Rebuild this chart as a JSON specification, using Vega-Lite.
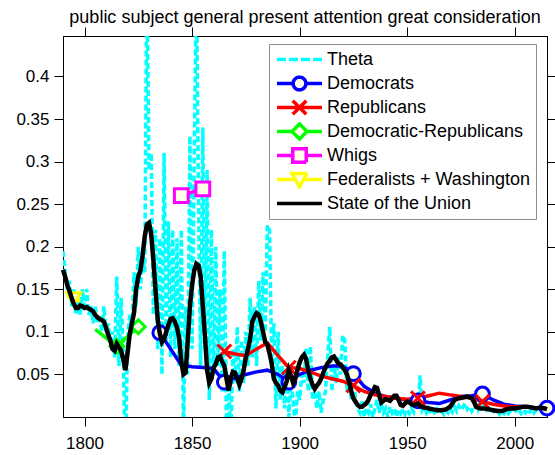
{
  "$schema": "https://vega.github.io/schema/vega-lite/v6.json",
  "width": 484,
  "height": 381,
  "autosize": {"type": "none"},
  "padding": {"left": 63, "top": 36, "right": 8, "bottom": 38},
  "background": "white",
  "config": {
    "font": "Liberation Sans",
    "view": {"stroke": "black", "strokeWidth": 1},
    "axis": {"grid": false, "domainColor": "black", "tickColor": "black", "labelColor": "black", "labelFontSize": 17, "labelFont": "Liberation Sans", "tickSize": 9, "domainWidth": 1, "tickWidth": 1}
  },
  "title": {"text": "public subject general present attention great consideration", "fontSize": 18, "fontWeight": "normal", "font": "Liberation Sans", "color": "black", "offset": 0, "anchor": "middle"},
  "datasets": {
    "theta": [
      {"year":1790,"v":0.195},{"year":1791,"v":0.17},{"year":1792,"v":0.15},{"year":1793,"v":0.16},{"year":1794,"v":0.13},{"year":1795,"v":0.15},{"year":1796,"v":0.12},{"year":1797,"v":0.14},{"year":1798,"v":0.12},{"year":1799,"v":0.15},
      {"year":1800,"v":0.13},{"year":1801,"v":0.15},{"year":1802,"v":0.12},{"year":1803,"v":0.13},{"year":1804,"v":0.11},{"year":1805,"v":0.13},{"year":1806,"v":0.11},{"year":1807,"v":0.12},{"year":1808,"v":0.10},{"year":1809,"v":0.13},
      {"year":1810,"v":0.10},{"year":1811,"v":0.11},{"year":1812,"v":0.09},{"year":1813,"v":0.10},{"year":1814,"v":0.07},{"year":1815,"v":0.165},{"year":1816,"v":0.06},{"year":1817,"v":0.14},{"year":1818,"v":0.08},{"year":1819,"v":-0.06},
      {"year":1820,"v":0.09},{"year":1821,"v":0.12},{"year":1822,"v":0.10},{"year":1823,"v":0.17},{"year":1824,"v":0.13},{"year":1825,"v":0.20},{"year":1826,"v":0.15},{"year":1827,"v":0.19},{"year":1828,"v":0.17},{"year":1829,"v":0.52},
      {"year":1830,"v":0.29},{"year":1831,"v":0.31},{"year":1832,"v":0.12},{"year":1833,"v":0.22},{"year":1834,"v":0.08},{"year":1835,"v":0.21},{"year":1836,"v":0.05},{"year":1837,"v":0.31},{"year":1838,"v":0.09},{"year":1839,"v":0.23},
      {"year":1840,"v":0.07},{"year":1841,"v":0.22},{"year":1842,"v":0.08},{"year":1843,"v":0.21},{"year":1844,"v":0.06},{"year":1845,"v":0.22},{"year":1846,"v":-0.02},{"year":1847,"v":0.13},{"year":1848,"v":0.05},{"year":1849,"v":0.33},
      {"year":1850,"v":0.08},{"year":1851,"v":0.30},{"year":1852,"v":0.52},{"year":1853,"v":0.25},{"year":1854,"v":0.06},{"year":1855,"v":0.34},{"year":1856,"v":0.08},{"year":1857,"v":0.29},{"year":1858,"v":0.02},{"year":1859,"v":0.22},
      {"year":1860,"v":0.05},{"year":1861,"v":0.20},{"year":1862,"v":0.06},{"year":1863,"v":0.15},{"year":1864,"v":0.03},{"year":1865,"v":0.195},{"year":1866,"v":-0.02},{"year":1867,"v":0.05},{"year":1868,"v":-0.03},{"year":1869,"v":0.08},
      {"year":1870,"v":0.04},{"year":1871,"v":0.106},{"year":1872,"v":0.03},{"year":1873,"v":0.09},{"year":1874,"v":0.04},{"year":1875,"v":0.10},{"year":1876,"v":0.06},{"year":1877,"v":0.14},{"year":1878,"v":0.07},{"year":1879,"v":0.13},
      {"year":1880,"v":0.06},{"year":1881,"v":0.16},{"year":1882,"v":0.09},{"year":1883,"v":0.17},{"year":1884,"v":0.10},{"year":1885,"v":0.225},{"year":1886,"v":0.22},{"year":1887,"v":0.07},{"year":1888,"v":0.11},{"year":1889,"v":0.01},
      {"year":1890,"v":0.10},{"year":1891,"v":0.02},{"year":1892,"v":0.06},{"year":1893,"v":0.01},{"year":1894,"v":0.063},{"year":1895,"v":0.0},{"year":1896,"v":0.04},{"year":1897,"v":0.02},{"year":1898,"v":-0.01},{"year":1899,"v":0.03},
      {"year":1900,"v":0.02},{"year":1901,"v":0.05},{"year":1902,"v":0.04},{"year":1903,"v":0.08},{"year":1904,"v":0.03},{"year":1905,"v":0.083},{"year":1906,"v":0.02},{"year":1907,"v":0.03},{"year":1908,"v":0.01},{"year":1909,"v":0.03},
      {"year":1910,"v":0.005},{"year":1911,"v":0.02},{"year":1912,"v":0.03},{"year":1913,"v":0.07},{"year":1914,"v":0.106},{"year":1915,"v":0.03},{"year":1916,"v":0.06},{"year":1917,"v":0.04},{"year":1918,"v":0.07},{"year":1919,"v":0.05},
      {"year":1920,"v":0.096},{"year":1921,"v":0.09},{"year":1922,"v":0.03},{"year":1923,"v":0.05},{"year":1924,"v":0.02},{"year":1925,"v":0.047},{"year":1926,"v":0.02},{"year":1927,"v":0.01},{"year":1928,"v":0.005},{"year":1929,"v":0.02},
      {"year":1930,"v":0.0},{"year":1931,"v":0.01},{"year":1932,"v":0.005},{"year":1933,"v":0.015},{"year":1934,"v":0.0},{"year":1935,"v":0.01},{"year":1936,"v":0.02},{"year":1937,"v":0.005},{"year":1938,"v":0.015},{"year":1939,"v":0.005},
      {"year":1940,"v":0.01},{"year":1941,"v":0.0},{"year":1942,"v":0.012},{"year":1943,"v":0.005},{"year":1944,"v":0.01},{"year":1945,"v":0.0},{"year":1946,"v":0.008},{"year":1947,"v":0.004},{"year":1948,"v":0.01},{"year":1949,"v":0.003},
      {"year":1950,"v":0.008},{"year":1951,"v":0.004},{"year":1952,"v":0.01},{"year":1953,"v":0.006},{"year":1954,"v":0.02},{"year":1955,"v":0.01},{"year":1956,"v":0.049},{"year":1957,"v":0.008},{"year":1958,"v":0.012},{"year":1959,"v":0.005},
      {"year":1960,"v":0.01},{"year":1961,"v":0.004},{"year":1962,"v":0.008},{"year":1963,"v":0.003},{"year":1964,"v":0.009},{"year":1965,"v":0.004},{"year":1966,"v":0.007},{"year":1967,"v":0.003},{"year":1968,"v":0.008},{"year":1969,"v":0.005},
      {"year":1970,"v":0.01},{"year":1971,"v":0.006},{"year":1972,"v":0.012},{"year":1973,"v":0.007},{"year":1974,"v":0.013},{"year":1975,"v":0.008},{"year":1976,"v":0.012},{"year":1977,"v":0.016},{"year":1978,"v":0.009},{"year":1979,"v":0.012},
      {"year":1980,"v":0.007},{"year":1981,"v":0.012},{"year":1982,"v":0.02},{"year":1983,"v":0.01},{"year":1984,"v":0.018},{"year":1985,"v":0.012},{"year":1986,"v":0.015},{"year":1987,"v":0.008},{"year":1988,"v":0.01},{"year":1989,"v":0.005},
      {"year":1990,"v":0.008},{"year":1991,"v":0.004},{"year":1992,"v":0.007},{"year":1993,"v":0.003},{"year":1994,"v":0.006},{"year":1995,"v":0.004},{"year":1996,"v":0.008},{"year":1997,"v":0.004},{"year":1998,"v":0.007},{"year":1999,"v":0.005},
      {"year":2000,"v":0.009},{"year":2001,"v":0.005},{"year":2002,"v":0.008},{"year":2003,"v":0.004},{"year":2004,"v":0.008},{"year":2005,"v":0.005},{"year":2006,"v":0.009},{"year":2007,"v":0.006},{"year":2008,"v":0.01},{"year":2009,"v":0.005},
      {"year":2010,"v":0.008},{"year":2011,"v":0.006},{"year":2012,"v":0.009},{"year":2013,"v":0.005},{"year":2014,"v":0.008},{"year":2015,"v":0.007}
    ],
    "party": [
      {"s":"Federalists + Washington","year":1792,"v":0.142},{"s":"Federalists + Washington","year":1798,"v":0.136},
      {"s":"Democratic-Republicans","year":1805,"v":0.103},{"s":"Democratic-Republicans","year":1815,"v":0.083},{"s":"Democratic-Republicans","year":1825,"v":0.106},
      {"s":"Whigs","year":1845,"v":0.26},{"s":"Whigs","year":1855,"v":0.268},
      {"s":"Democrats","year":1835,"v":0.099},{"s":"Democrats","year":1840,"v":0.08},{"s":"Democrats","year":1845,"v":0.061},{"s":"Democrats","year":1850,"v":0.059},{"s":"Democrats","year":1855,"v":0.058},{"s":"Democrats","year":1860,"v":0.057},{"s":"Democrats","year":1865,"v":0.041},{"s":"Democrats","year":1870,"v":0.046},{"s":"Democrats","year":1875,"v":0.05},{"s":"Democrats","year":1880,"v":0.053},{"s":"Democrats","year":1885,"v":0.055},{"s":"Democrats","year":1890,"v":0.05},{"s":"Democrats","year":1895,"v":0.041},{"s":"Democrats","year":1900,"v":0.05},{"s":"Democrats","year":1905,"v":0.055},{"s":"Democrats","year":1910,"v":0.058},{"s":"Democrats","year":1915,"v":0.06},{"s":"Democrats","year":1920,"v":0.06},{"s":"Democrats","year":1925,"v":0.051},{"s":"Democrats","year":1930,"v":0.036},{"s":"Democrats","year":1935,"v":0.028},{"s":"Democrats","year":1940,"v":0.024},{"s":"Democrats","year":1945,"v":0.022},{"s":"Democrats","year":1950,"v":0.02},{"s":"Democrats","year":1955,"v":0.019},{"s":"Democrats","year":1960,"v":0.017},{"s":"Democrats","year":1965,"v":0.016},{"s":"Democrats","year":1970,"v":0.02},{"s":"Democrats","year":1975,"v":0.024},{"s":"Democrats","year":1980,"v":0.025},{"s":"Democrats","year":1985,"v":0.027},{"s":"Democrats","year":1990,"v":0.02},{"s":"Democrats","year":1995,"v":0.015},{"s":"Democrats","year":2000,"v":0.013},{"s":"Democrats","year":2005,"v":0.012},{"s":"Democrats","year":2010,"v":0.011},{"s":"Democrats","year":2015,"v":0.0105},
      {"s":"Republicans","year":1865,"v":0.077},{"s":"Republicans","year":1870,"v":0.074},{"s":"Republicans","year":1875,"v":0.072},{"s":"Republicans","year":1880,"v":0.08},{"s":"Republicans","year":1885,"v":0.087},{"s":"Republicans","year":1890,"v":0.072},{"s":"Republicans","year":1895,"v":0.058},{"s":"Republicans","year":1900,"v":0.057},{"s":"Republicans","year":1905,"v":0.053},{"s":"Republicans","year":1910,"v":0.048},{"s":"Republicans","year":1915,"v":0.045},{"s":"Republicans","year":1920,"v":0.042},{"s":"Republicans","year":1925,"v":0.037},{"s":"Republicans","year":1930,"v":0.03},{"s":"Republicans","year":1935,"v":0.026},{"s":"Republicans","year":1940,"v":0.024},{"s":"Republicans","year":1945,"v":0.022},{"s":"Republicans","year":1950,"v":0.021},{"s":"Republicans","year":1955,"v":0.022},{"s":"Republicans","year":1960,"v":0.025},{"s":"Republicans","year":1965,"v":0.028},{"s":"Republicans","year":1970,"v":0.026},{"s":"Republicans","year":1975,"v":0.024},{"s":"Republicans","year":1980,"v":0.022},{"s":"Republicans","year":1985,"v":0.018},{"s":"Republicans","year":1990,"v":0.015},{"s":"Republicans","year":1995,"v":0.013},{"s":"Republicans","year":2000,"v":0.012},{"s":"Republicans","year":2005,"v":0.012}
    ],
    "markers": [
      {"s":"Federalists + Washington","year":1795,"v":0.139},
      {"s":"Democratic-Republicans","year":1815,"v":0.083},{"s":"Democratic-Republicans","year":1825,"v":0.106},
      {"s":"Whigs","year":1845,"v":0.26},{"s":"Whigs","year":1855,"v":0.268},
      {"s":"Democrats","year":1835,"v":0.099},{"s":"Democrats","year":1865,"v":0.041},{"s":"Democrats","year":1895,"v":0.041},{"s":"Democrats","year":1925,"v":0.051},{"s":"Democrats","year":1955,"v":0.019},{"s":"Democrats","year":1985,"v":0.027},{"s":"Democrats","year":2015,"v":0.0105},
      {"s":"Republicans","year":1865,"v":0.077},{"s":"Republicans","year":1895,"v":0.058},{"s":"Republicans","year":1925,"v":0.037},{"s":"Republicans","year":1955,"v":0.022},{"s":"Republicans","year":1985,"v":0.018}
    ],
    "sotu": [
      {"year":1790,"v":0.173},{"year":1791,"v":0.165},{"year":1792,"v":0.155},{"year":1793,"v":0.148},{"year":1794,"v":0.14},{"year":1795,"v":0.133},{"year":1796,"v":0.128},{"year":1797,"v":0.128},{"year":1798,"v":0.131},{"year":1799,"v":0.13},
      {"year":1800,"v":0.128},{"year":1801,"v":0.129},{"year":1802,"v":0.127},{"year":1803,"v":0.126},{"year":1804,"v":0.124},{"year":1805,"v":0.12},{"year":1806,"v":0.117},{"year":1807,"v":0.115},{"year":1808,"v":0.114},{"year":1809,"v":0.112},
      {"year":1810,"v":0.105},{"year":1811,"v":0.097},{"year":1812,"v":0.09},{"year":1813,"v":0.08},{"year":1814,"v":0.078},{"year":1815,"v":0.086},{"year":1816,"v":0.082},{"year":1817,"v":0.078},{"year":1818,"v":0.068},{"year":1819,"v":0.055},
      {"year":1820,"v":0.075},{"year":1821,"v":0.097},{"year":1822,"v":0.11},{"year":1823,"v":0.122},{"year":1824,"v":0.15},{"year":1825,"v":0.165},{"year":1826,"v":0.172},{"year":1827,"v":0.19},{"year":1828,"v":0.212},{"year":1829,"v":0.226},
      {"year":1830,"v":0.228},{"year":1831,"v":0.215},{"year":1832,"v":0.185},{"year":1833,"v":0.15},{"year":1834,"v":0.115},{"year":1835,"v":0.098},{"year":1836,"v":0.088},{"year":1837,"v":0.092},{"year":1838,"v":0.1},{"year":1839,"v":0.108},
      {"year":1840,"v":0.115},{"year":1841,"v":0.116},{"year":1842,"v":0.112},{"year":1843,"v":0.105},{"year":1844,"v":0.093},{"year":1845,"v":0.065},{"year":1846,"v":0.05},{"year":1847,"v":0.052},{"year":1848,"v":0.09},{"year":1849,"v":0.13},
      {"year":1850,"v":0.155},{"year":1851,"v":0.172},{"year":1852,"v":0.18},{"year":1853,"v":0.178},{"year":1854,"v":0.165},{"year":1855,"v":0.13},{"year":1856,"v":0.095},{"year":1857,"v":0.055},{"year":1858,"v":0.04},{"year":1859,"v":0.045},
      {"year":1860,"v":0.058},{"year":1861,"v":0.062},{"year":1862,"v":0.07},{"year":1863,"v":0.071},{"year":1864,"v":0.065},{"year":1865,"v":0.06},{"year":1866,"v":0.045},{"year":1867,"v":0.031},{"year":1868,"v":0.046},{"year":1869,"v":0.053},
      {"year":1870,"v":0.052},{"year":1871,"v":0.045},{"year":1872,"v":0.038},{"year":1873,"v":0.045},{"year":1874,"v":0.055},{"year":1875,"v":0.07},{"year":1876,"v":0.08},{"year":1877,"v":0.092},{"year":1878,"v":0.112},{"year":1879,"v":0.118},
      {"year":1880,"v":0.122},{"year":1881,"v":0.12},{"year":1882,"v":0.112},{"year":1883,"v":0.1},{"year":1884,"v":0.088},{"year":1885,"v":0.085},{"year":1886,"v":0.075},{"year":1887,"v":0.063},{"year":1888,"v":0.045},{"year":1889,"v":0.04},
      {"year":1890,"v":0.037},{"year":1891,"v":0.031},{"year":1892,"v":0.029},{"year":1893,"v":0.035},{"year":1894,"v":0.042},{"year":1895,"v":0.055},{"year":1896,"v":0.048},{"year":1897,"v":0.04},{"year":1898,"v":0.045},{"year":1899,"v":0.055},
      {"year":1900,"v":0.064},{"year":1901,"v":0.07},{"year":1902,"v":0.073},{"year":1903,"v":0.068},{"year":1904,"v":0.055},{"year":1905,"v":0.045},{"year":1906,"v":0.038},{"year":1907,"v":0.033},{"year":1908,"v":0.037},{"year":1909,"v":0.04},
      {"year":1910,"v":0.045},{"year":1911,"v":0.052},{"year":1912,"v":0.058},{"year":1913,"v":0.063},{"year":1914,"v":0.066},{"year":1915,"v":0.07},{"year":1916,"v":0.071},{"year":1917,"v":0.067},{"year":1918,"v":0.063},{"year":1919,"v":0.062},
      {"year":1920,"v":0.058},{"year":1921,"v":0.055},{"year":1922,"v":0.05},{"year":1923,"v":0.042},{"year":1924,"v":0.03},{"year":1925,"v":0.022},{"year":1926,"v":0.018},{"year":1927,"v":0.014},{"year":1928,"v":0.012},{"year":1929,"v":0.012},
      {"year":1930,"v":0.014},{"year":1931,"v":0.016},{"year":1932,"v":0.02},{"year":1933,"v":0.026},{"year":1934,"v":0.03},{"year":1935,"v":0.035},{"year":1936,"v":0.034},{"year":1937,"v":0.025},{"year":1938,"v":0.017},{"year":1939,"v":0.019},
      {"year":1940,"v":0.021},{"year":1941,"v":0.02},{"year":1942,"v":0.019},{"year":1943,"v":0.022},{"year":1944,"v":0.025},{"year":1945,"v":0.025},{"year":1946,"v":0.02},{"year":1947,"v":0.014},{"year":1948,"v":0.013},{"year":1949,"v":0.016},
      {"year":1950,"v":0.018},{"year":1951,"v":0.017},{"year":1952,"v":0.015},{"year":1953,"v":0.014},{"year":1954,"v":0.015},{"year":1955,"v":0.016},{"year":1956,"v":0.013},{"year":1957,"v":0.012},{"year":1958,"v":0.011},{"year":1959,"v":0.011},
      {"year":1960,"v":0.01},{"year":1962,"v":0.009},{"year":1964,"v":0.008},{"year":1966,"v":0.008},{"year":1968,"v":0.009},{"year":1970,"v":0.012},{"year":1972,"v":0.02},{"year":1974,"v":0.022},{"year":1976,"v":0.023},{"year":1978,"v":0.024},
      {"year":1980,"v":0.022},{"year":1981,"v":0.018},{"year":1982,"v":0.012},{"year":1984,"v":0.01},{"year":1986,"v":0.01},{"year":1988,"v":0.009},{"year":1990,"v":0.008},{"year":1992,"v":0.007},{"year":1994,"v":0.007},{"year":1996,"v":0.009},
      {"year":1998,"v":0.01},{"year":2000,"v":0.01},{"year":2002,"v":0.011},{"year":2004,"v":0.012},{"year":2006,"v":0.012},{"year":2008,"v":0.011},{"year":2010,"v":0.01},{"year":2012,"v":0.011},{"year":2014,"v":0.01},{"year":2015,"v":0.009}
    ]
  },
  "layer": [
    {
      "data": {"name": "theta"},
      "mark": {"type": "line", "clip": true, "strokeWidth": 3.5, "strokeDash": [6, 3]},
      "encoding": {
        "x": {"field": "year", "type": "quantitative", "scale": {"domain": [1790, 2015], "nice": false, "zero": false},
              "axis": {"orient": "bottom", "title": null, "values": [1800, 1850, 1900, 1950, 2000], "format": "d", "labelBaseline": "alphabetic", "labelPadding": 22}},
        "y": {"field": "v", "type": "quantitative", "scale": {"domain": [0, 0.4475], "nice": false, "zero": false},
              "axis": {"orient": "left", "title": null, "values": [0.05, 0.1, 0.15, 0.2, 0.25, 0.3, 0.35, 0.4], "format": "~g", "labelPadding": 5}},
        "stroke": {
          "datum": "Theta", "type": "nominal", "title": null,
          "scale": {"domain": ["Theta", "Democrats", "Republicans", "Democratic-Republicans", "Whigs", "Federalists + Washington", "State of the Union"],
                    "range": ["#00ffff", "#0000ff", "#ff0000", "#00ff00", "#ff00ff", "#ffff00", "#000000"]},
          "legend": {
            "title": null, "orient": "none", "legendX": 206, "legendY": 8, "direction": "vertical",
            "padding": 6, "strokeColor": "#8c8c8c", "fillColor": "white", "cornerRadius": 0,
            "labelFontSize": 18, "labelFont": "Liberation Sans", "labelColor": "black", "labelLimit": 400,
            "rowPadding": 5, "clipHeight": 19, "symbolSize": 225, "symbolStrokeWidth": 3.5, "labelOffset": 33,
            "encode": {"symbols": {"update": {
              "shape": {"signal": "datum.value === 'Theta' ? 'M-1,0H0.2M0.6,0H1.8M2.2,0H3.4M3.8,0H5' : datum.value === 'Democrats' ? 'M-1,0H1.15M2.85,0H5M1.15,0A0.85,0.85 0 1,1 2.85,0A0.85,0.85 0 1,1 1.15,0Z' : datum.value === 'Republicans' ? 'M-1,0H5M1.1,-0.9L2.9,0.9M1.1,0.9L2.9,-0.9' : datum.value === 'Democratic-Republicans' ? 'M-1,0H1M3,0H5M1,0L2,-1L3,0L2,1Z' : datum.value === 'Whigs' ? 'M-1,0H1.1M2.9,0H5M1.1,-0.9H2.9V0.9H1.1Z' : datum.value === 'Federalists + Washington' ? 'M-1,0H1.44M2.56,0H5M1,-0.8H3L2,1Z' : 'M-1,0H5'"},
              "fill": {"value": "#fffde6"},
              "size": {"value": 225},
              "strokeDash": {"value": [1, 0]},
              "strokeWidth": {"value": 3.5},
              "opacity": {"value": 1}
            }}}
          }
        }
      }
    },
    {
      "data": {"name": "party"},
      "mark": {"type": "line", "strokeWidth": 3.5},
      "encoding": {
        "x": {"field": "year", "type": "quantitative", "axis": null},
        "y": {"field": "v", "type": "quantitative", "axis": null},
        "stroke": {"field": "s", "type": "nominal", "title": null}
      }
    },
    {
      "data": {"name": "markers"},
      "mark": {"type": "point", "filled": false, "fill": "#fffde6", "fillOpacity": 1, "strokeWidth": 3, "opacity": 1, "size": 190},
      "encoding": {
        "x": {"field": "year", "type": "quantitative", "axis": null},
        "y": {"field": "v", "type": "quantitative", "axis": null},
        "stroke": {"field": "s", "type": "nominal", "title": null},
        "shape": {"field": "s", "type": "nominal", "legend": null,
                  "scale": {"domain": ["Democrats", "Republicans", "Democratic-Republicans", "Whigs", "Federalists + Washington"],
                            "range": ["circle", "M-1,-1L1,1M-1,1L1,-1", "diamond", "square", "triangle-down"]}}
      }
    },
    {
      "data": {"name": "sotu"},
      "mark": {"type": "line", "strokeWidth": 4.5},
      "encoding": {
        "x": {"field": "year", "type": "quantitative",
              "axis": {"orient": "top", "title": null, "labels": false, "values": [1800, 1850, 1900, 1950, 2000]}},
        "y": {"field": "v", "type": "quantitative",
              "axis": {"orient": "right", "title": null, "labels": false, "values": [0.05, 0.1, 0.15, 0.2, 0.25, 0.3, 0.35, 0.4]}},
        "stroke": {"datum": "State of the Union", "type": "nominal", "title": null}
      }
    }
  ],
  "resolve": {"axis": {"x": "independent", "y": "independent"}}
}
